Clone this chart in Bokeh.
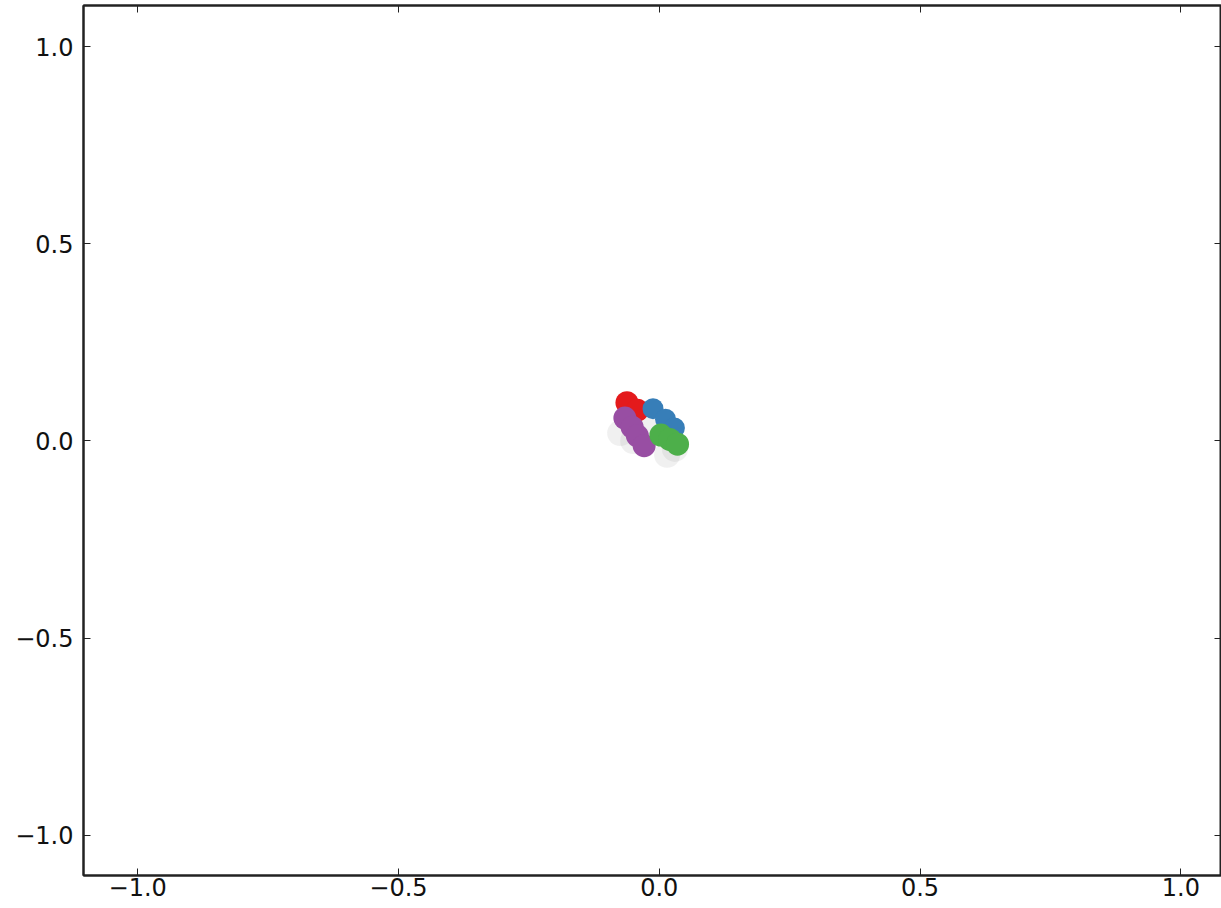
from bokeh.plotting import figure
from bokeh.models import LinearAxis, Range1d, FixedTicker, CustomJSTickFormatter
from bokeh.embed import file_html
from bokeh.resources import INLINE

# data
shadow_x = [-0.075, -0.05, 0.015, 0.03, -0.02]
shadow_y = [0.02, 0.0, -0.035, -0.02, 0.05]
red_x = [-0.062, -0.042]
red_y = [0.097, 0.078]
blue_x = [-0.012, 0.012, 0.029]
blue_y = [0.082, 0.055, 0.033]
purple_x = [-0.066, -0.052, -0.042, -0.029]
purple_y = [0.058, 0.035, 0.013, -0.012]
green_x = [0.003, 0.02, 0.035]
green_y = [0.015, 0.004, -0.008]
ticks = [-1.0, -0.5, 0.0, 0.5, 1.0]

p = figure(width=1221, height=908, output_backend="svg", toolbar_location=None,
           x_range=Range1d(-1.104, 1.078), y_range=Range1d(-1.1015, 1.104),
           min_border_left=83, min_border_right=0, min_border_top=5, min_border_bottom=33,
           background_fill_color="white", border_fill_color="white")
p.grid.visible = False
p.outline_line_color = "#222222"
p.outline_line_width = 2

fmt = CustomJSTickFormatter(code="return tick.toFixed(1).replace('-', '\u2212');")
for ax in p.xaxis + p.yaxis:
    ax.ticker = FixedTicker(ticks=ticks)
    ax.formatter = fmt
    ax.major_tick_in = 7
    ax.major_tick_out = 0
    ax.minor_tick_in = 0
    ax.minor_tick_out = 0
    ax.axis_line_color = "#222222"
    ax.axis_line_width = 2
    ax.major_tick_line_color = "#222222"
    ax.major_label_text_font = "DejaVu Sans"
    ax.major_label_text_font_size = "24px"
    ax.major_label_text_color = "#111111"
p.xaxis.major_label_standoff = 2
p.yaxis.major_label_standoff = 10

for loc in ["above", "right"]:
    ax = LinearAxis(ticker=FixedTicker(ticks=ticks),
                    formatter=CustomJSTickFormatter(code="return '';"))
    ax.major_tick_in = 7
    ax.major_tick_out = 0
    ax.minor_tick_in = 0
    ax.minor_tick_out = 0
    ax.major_label_standoff = 0
    ax.axis_line_color = "#222222"
    ax.axis_line_width = 2
    ax.major_tick_line_color = "#222222"
    p.add_layout(ax, loc)

p.scatter(shadow_x, shadow_y, size=26, color="#999999", alpha=0.15, line_color=None)
p.scatter(red_x, red_y, size=23, color="#e41a1c", line_color=None)
p.scatter(blue_x, blue_y, size=21, color="#377eb8", line_color=None)
p.scatter(purple_x, purple_y, size=23, color="#984ea3", line_color=None)
p.scatter(green_x, green_y, size=23, color="#4daf4a", line_color=None)

open("out.html", "w").write(file_html(p, INLINE))
